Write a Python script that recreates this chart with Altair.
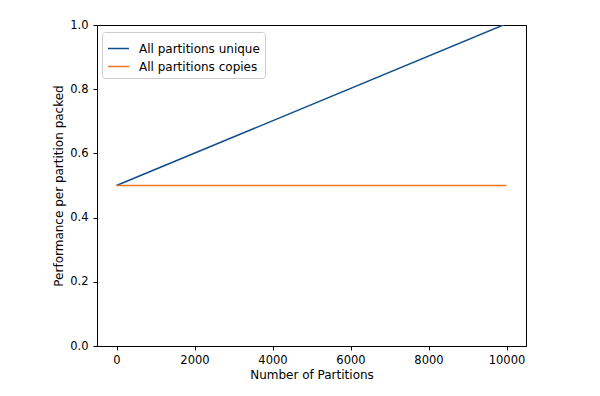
import altair as alt
import pandas as pd

series_names = ["All partitions unique", "All partitions copies"]
unique_x = [0, 10000]
unique_y = [0.5, 1.004]
copies_x = [0, 10000]
copies_y = [0.5, 0.5]
colors = ["#104E8B", "#EE7621"]

rows = []
for x, y in zip(unique_x, unique_y):
    rows.append({"series": series_names[0], "x": x, "y": y})
for x, y in zip(copies_x, copies_y):
    rows.append({"series": series_names[1], "x": x, "y": y})
df = pd.DataFrame(rows)

FONT = "DejaVu Sans"

chart = alt.Chart(df).mark_line(strokeWidth=1.5, clip=True).encode(
    x=alt.X("x:Q", title="Number of Partitions",
            scale=alt.Scale(domain=[-500, 10500], nice=False, zero=False),
            axis=alt.Axis(values=[0, 2000, 4000, 6000, 8000, 10000], format="d",
                          grid=False)),
    y=alt.Y("y:Q", title="Performance per partition packed",
            scale=alt.Scale(domain=[0, 1], nice=False),
            axis=alt.Axis(values=[0, 0.2, 0.4, 0.6, 0.8, 1.0], format=".1f",
                          grid=False)),
    color=alt.Color("series:N",
                    scale=alt.Scale(domain=series_names, range=colors),
                    legend=alt.Legend(title=None, orient="none", legendX=5, legendY=7,
                                      symbolType="stroke", symbolSize=440,
                                      symbolStrokeWidth=1.5,
                                      labelFont=FONT, labelFontSize=12, labelColor="black",
                                      labelOffset=9, rowPadding=0,
                                      strokeColor="#cccccc", cornerRadius=3,
                                      fillColor="white", padding=5)),
).properties(
    width=429, height=321,
    autosize=alt.AutoSizeParams(type="none"),
    padding={"left": 89, "top": 17, "right": 50, "bottom": 40},
).configure_view(
    stroke="black", strokeWidth=1
).configure_axis(
    domain=True, domainColor="black", domainWidth=1,
    tickColor="black", tickSize=4, tickWidth=1,
    labelFont=FONT, labelFontSize=11.5, labelColor="black",
    titleFont=FONT, titleFontSize=12, titleColor="black", titleFontWeight="normal",
).configure_axisX(labelPadding=4, titlePadding=4).configure_axisY(labelPadding=5, titlePadding=4)

chart.save("out.html", embed_options={"renderer": "svg", "actions": False})
